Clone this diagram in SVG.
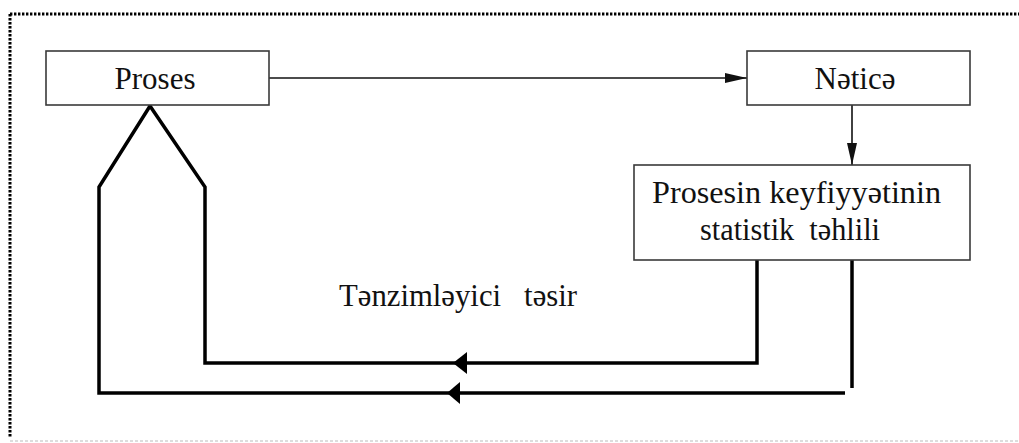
<svg xmlns="http://www.w3.org/2000/svg" width="1019" height="443" viewBox="0 0 1019 443">
<style>
.box{fill:#fff;stroke:#3a3a3a;stroke-width:1.6}
.lbl{font-family:"Liberation Serif","Times New Roman",serif;font-size:31px;fill:#111;white-space:pre}
.thin{fill:none;stroke:#111;stroke-width:1.6}
.thick{fill:none;stroke:#000;stroke-width:3.5;stroke-linejoin:miter}
.head{fill:#000}
.dot{fill:none;stroke:#000;stroke-width:3;stroke-dasharray:2.4 1.6}
</style>
<defs>
<marker id="arr" viewBox="0 0 22 10" refX="22" refY="5" markerWidth="22" markerHeight="10" markerUnits="userSpaceOnUse" orient="auto">
<path d="M0,0 L22,5 L0,10 Z" fill="#111"/>
</marker>
</defs>
<g id="frame">
<path class="dot" d="M10,14 H1019"/>
<path class="dot" d="M10,14 V437"/>
<path d="M10,441 H1019" fill="none" stroke="#bbb" stroke-width="1.2" stroke-dasharray="3 2"/>
</g>
<g id="connectors">
<path class="thin" d="M269,78 H747" marker-end="url(#arr)"/>
<path class="thin" d="M852,105 V165" marker-end="url(#arr)"/>
<path class="thick" d="M757,260 V363 H205 V187 L150,106 L99,187 V393 H845"/>
<path class="thick" d="M852,260 V388"/>
<polygon class="head" points="453,363 467,352 467,374"/>
<polygon class="head" points="447,393 460,382 460,404"/>
</g>
<g id="proses">
<rect class="box" x="46" y="51" width="223" height="54"/>
<text class="lbl" x="155" y="89" text-anchor="middle">Proses</text>
</g>
<g id="netice">
<rect class="box" x="747" y="51" width="223" height="54"/>
<text class="lbl" x="855" y="89" text-anchor="middle">Nəticə</text>
</g>
<g id="tehlil">
<rect class="box" x="634" y="165" width="336" height="95"/>
<text class="lbl" x="652" y="203" textLength="289" lengthAdjust="spacingAndGlyphs">Prosesin keyfiyyətinin</text>
<text class="lbl" x="700" y="240" textLength="180" lengthAdjust="spacingAndGlyphs">statistik  təhlili</text>
</g>
<g id="label">
<text class="lbl" x="339" y="306" textLength="238" lengthAdjust="spacingAndGlyphs">Tənzimləyici   təsir</text>
</g>
</svg>
